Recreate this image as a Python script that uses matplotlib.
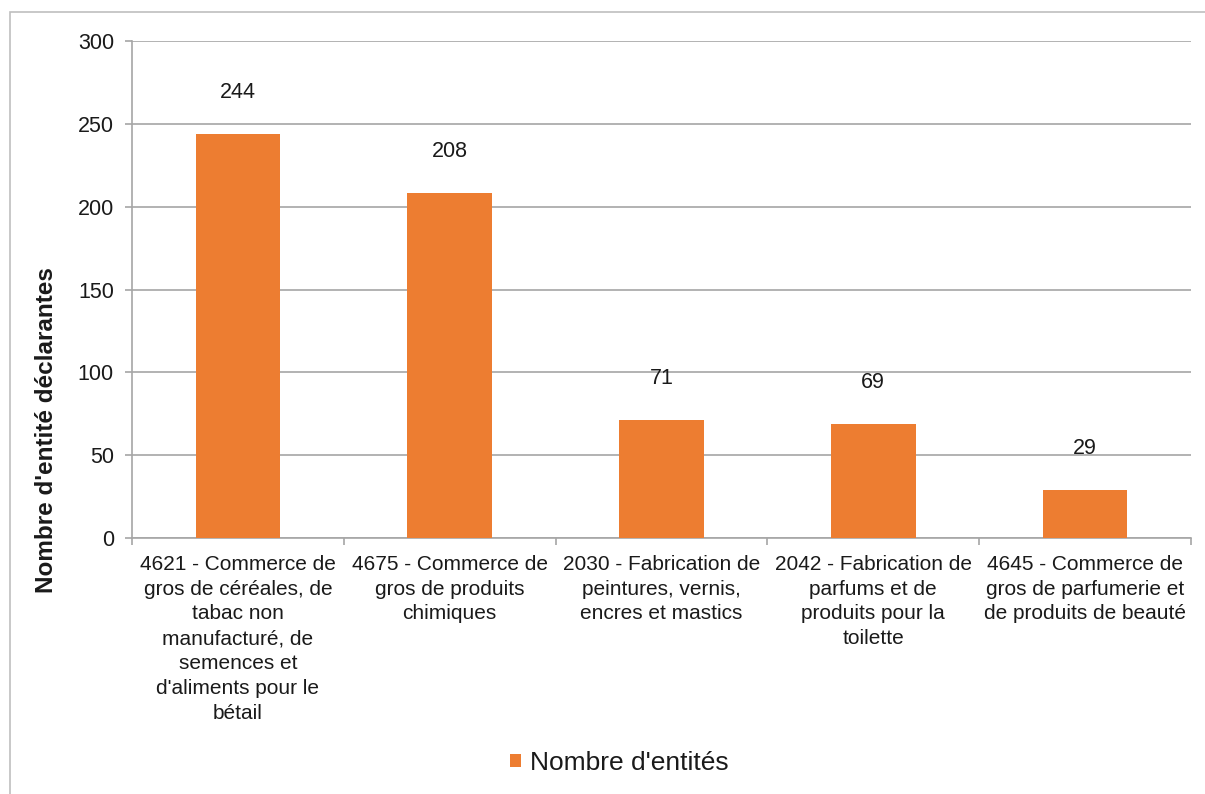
import numpy as np
import matplotlib
matplotlib.use('Agg')
from matplotlib import pyplot as plt
from matplotlib.patches import Rectangle

plt.rcParams['font.family'] = ['Liberation Sans', 'DejaVu Sans']

categories = [
    "4621 - Commerce de\ngros de céréales, de\ntabac non\nmanufacturé, de\nsemences et\nd'aliments pour le\nbétail",
    "4675 - Commerce de\ngros de produits\nchimiques",
    "2030 - Fabrication de\npeintures, vernis,\nencres et mastics",
    "2042 - Fabrication de\nparfums et de\nproduits pour la\ntoilette",
    "4645 - Commerce de\ngros de parfumerie et\nde produits de beauté",
]
values = [244, 208, 71, 69, 29]
yticks = [0, 50, 100, 150, 200, 250, 300]

bar_color = '#ED7D31'
grid_color = '#A6A6A6'
text_color = '#1a1a1a'

W, H = 1205, 794
fig = plt.figure(figsize=(W/100, H/100), dpi=100)
ax = fig.add_axes([132/W, 1 - 538/H, (1191 - 132)/W, (538 - 41)/H])

# outer chart border
fig.patches.append(Rectangle((10/W, -0.05), 1.2, 1 - 12/H + 0.05, transform=fig.transFigure,
                             fill=False, edgecolor='#BFBFBF', linewidth=1.2))

x = np.arange(len(values))
ax.bar(x, values, width=0.4, color=bar_color, label="Nombre d'entités", zorder=3)

for xi, v in zip(x, values):
    ax.text(xi, v + 25, str(v), ha='center', va='center', fontsize=15.5, color=text_color, zorder=4)

ax.set_xlim(-0.5, len(values) - 0.5)
ax.set_ylim(0, 300)
ax.set_yticks(yticks)
ax.yaxis.grid(True, color=grid_color, linewidth=1.2, zorder=0)
ax.tick_params(axis='y', length=5, width=1.2, color=grid_color, labelsize=15.5, labelcolor=text_color, pad=8)

# category ticks at boundaries
ax.set_xticks(np.arange(-0.5, len(values) + 0.5, 1))
ax.set_xticklabels([])
ax.tick_params(axis='x', length=5, width=1.2, color=grid_color)
ax.set_xticks(x, minor=True)
ax.set_xticklabels(categories, minor=True, fontsize=15, color=text_color, linespacing=1.39, va='top')
ax.tick_params(axis='x', which='minor', length=0, pad=12)

for s in ['top', 'right']:
    ax.spines[s].set_visible(False)
for s in ['left', 'bottom']:
    ax.spines[s].set_color(grid_color)
    ax.spines[s].set_linewidth(1.2)

ax.set_ylabel("Nombre d'entité déclarantes", fontsize=17.5, fontweight='bold', color=text_color)
ax.yaxis.set_label_coords(-74/(1191 - 132), (538 - 430)/(538 - 41))

leg = fig.legend(loc='center', bbox_to_anchor=(619/W, 1 - 763/H), frameon=False, fontsize=19,
                 handlelength=0.42, handleheight=0.42, handletextpad=0.35)
for t in leg.get_texts():
    t.set_color(text_color)

fig.savefig('out.png', dpi=100)
